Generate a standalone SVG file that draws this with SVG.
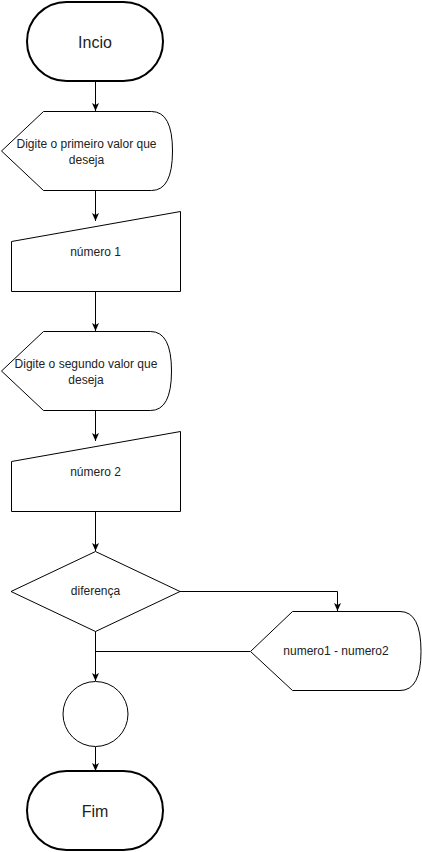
<svg xmlns="http://www.w3.org/2000/svg" width="422" height="852" viewBox="0 0 422 852">
  <style>
    .shape { fill: #ffffff; stroke: #000000; stroke-width: 1; }
    .term { fill: #ffffff; stroke: #000000; stroke-width: 2; }
    .label { font-family: "Liberation Sans", Arial, sans-serif; font-size: 12px; fill: #222222; text-anchor: middle; dominant-baseline: central; }
    .big { font-size: 16px; }
    .edge { fill: none; stroke: #000000; stroke-width: 1; }
    .arrow { marker-end: url(#head); }
  </style>
  <defs>
    <marker id="head" viewBox="0 0 8 8" refX="8" refY="4" markerWidth="8" markerHeight="8" markerUnits="userSpaceOnUse" orient="auto">
      <path d="M0,0.5 L8,4 L0,7.5 L2,4 Z" fill="#000000"/>
    </marker>
  </defs>

  <rect width="422" height="852" fill="#ffffff"/>

  <!-- connectors -->
  <g id="connectors">
    <path class="edge arrow" d="M95.5,81 V111"/>
    <path class="edge arrow" d="M95.5,191 V221"/>
    <path class="edge arrow" d="M95.5,291 V331"/>
    <path class="edge arrow" d="M95.5,411 V441"/>
    <path class="edge arrow" d="M95.5,511 V551"/>
    <path class="edge arrow" d="M180,591.5 H337.5 V611"/>
    <path class="edge" d="M250,651.5 H95.5"/>
    <path class="edge arrow" d="M95.5,631 V681"/>
    <path class="edge arrow" d="M95.5,747 V771"/>
  </g>

  <!-- start terminator -->
  <g id="inicio">
    <rect class="term" x="27" y="2" width="136" height="79" rx="39.5" ry="39.5"/>
    <text class="label big" x="95" y="42">Incio</text>
  </g>

  <!-- prompt for the first value -->
  <g id="display1">
    <path class="shape" d="M1.5,151 L43.5,111.5 L151.5,111.5 Q172.5,111.5 172.5,151 Q172.5,190.5 151.5,190.5 L43.5,190.5 Z"/>
    <text class="label" x="86.5" y="144">Digite o primeiro valor que</text>
    <text class="label" x="86.5" y="160">deseja</text>
  </g>

  <!-- first value input -->
  <g id="input1">
    <path class="shape" d="M11.5,241.5 L180.5,211.5 L180.5,291.5 L11.5,291.5 Z"/>
    <text class="label" x="95.5" y="252">número 1</text>
  </g>

  <!-- prompt for the second value -->
  <g id="display2">
    <path class="shape" d="M1.5,371 L43.5,331.5 L150.5,331.5 Q171.5,331.5 171.5,371 Q171.5,410.5 150.5,410.5 L43.5,410.5 Z"/>
    <text class="label" x="86" y="364">Digite o segundo valor que</text>
    <text class="label" x="86" y="380">deseja</text>
  </g>

  <!-- second value input -->
  <g id="input2">
    <path class="shape" d="M11.5,461.5 L180.5,431.5 L180.5,511.5 L11.5,511.5 Z"/>
    <text class="label" x="95.5" y="472">número 2</text>
  </g>

  <!-- decision -->
  <g id="diferenca">
    <path class="shape" d="M95.5,551.5 L180,591.5 L95.5,631.5 L11,591.5 Z"/>
    <text class="label" x="95.5" y="591">diferença</text>
  </g>

  <!-- result display -->
  <g id="display3">
    <path class="shape" d="M250.5,651.5 L292.5,611.5 L400,611.5 Q421,611.5 421,651.5 Q421,690.5 400,690.5 L292.5,690.5 Z"/>
    <text class="label" x="336" y="651">numero1 - numero2</text>
  </g>

  <!-- connector circle -->
  <g id="juncao">
    <circle class="shape" cx="95.5" cy="714" r="32.5"/>
  </g>

  <!-- end terminator -->
  <g id="fim">
    <rect class="term" x="27" y="771" width="136" height="79" rx="39.5" ry="39.5"/>
    <text class="label big" x="95" y="811">Fim</text>
  </g>
</svg>
